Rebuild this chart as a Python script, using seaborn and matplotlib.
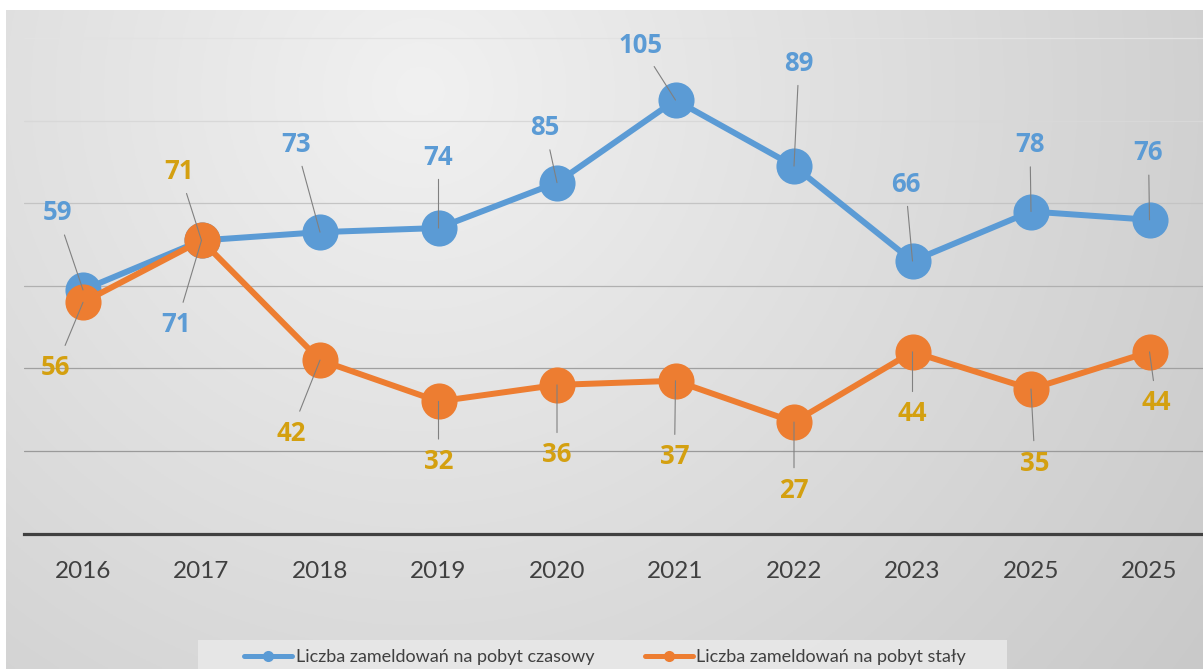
import numpy as np
import pandas as pd
import matplotlib
matplotlib.use("Agg")
import matplotlib.pyplot as plt
from matplotlib.lines import Line2D
from matplotlib.patches import Rectangle
import seaborn as sns

# ---- data ----
years = ["2016", "2017", "2018", "2019", "2020", "2021", "2022", "2023", "2025", "2025"]
temporary = [59, 71, 73, 74, 85, 105, 89, 66, 78, 76]
permanent = [56, 71, 42, 32, 36, 37, 27, 44, 35, 44]
series_names = ["Liczba zameldowań na pobyt czasowy", "Liczba zameldowań na pobyt stały"]

# label offsets (pixels, right / down) - layout only
blue_offsets = [(-26, -77), (-25, 84), (-24, -88), (0, -71), (-12, -55),
                (-35, -55), (5, -103), (-7, -77), (-1, -67), (-1, -67)]
orange_offsets = [(-27, 65), (-22, -69), (-29, 73), (0, 60), (0, 70),
                  (-1, 76), (0, 68), (0, 62), (4, 74), (7, 51)]

BLUE = "#5B9BD5"
ORANGE = "#ED7D31"
GOLD = "#D4A010"

sns.set_theme(style="white")
plt.rcParams["font.family"] = ["Lato", "DejaVu Sans"]

W, H = 1203, 669
fig = plt.figure(figsize=(W / 100, H / 100), dpi=100)
fig.patch.set_facecolor("white")

# ---- gradient background ----
bg = fig.add_axes([6 / W, 0, 1 - 6 / W, (H - 10) / H])
bg.set_axis_off()
gx, gy = np.meshgrid(np.linspace(6, W, 400), np.linspace(10, H, 250))
dist = np.sqrt((gx - 420) ** 2 + (gy - 90) ** 2)
val = 241 - dist * 0.041
val = np.clip(val, 195, 245) / 255.0
bg.imshow(np.dstack([val, val, val]), aspect="auto", extent=[0, 1, 0, 1], origin="upper")
bg.set_xlim(0, 1)
bg.set_ylim(0, 1)

# ---- main axes ----
px_per_unit = 4.128
y0_px = 533.5
ymax = 125
ax = fig.add_axes([23.75 / W, (H - y0_px) / H, 1185 / W, ymax * px_per_unit / H])
ax.patch.set_alpha(0)

xpos = np.arange(len(years))
df = pd.DataFrame({"x": np.concatenate([xpos, xpos]),
                   "value": temporary + permanent,
                   "series": [series_names[0]] * len(years) + [series_names[1]] * len(years)})

sns.lineplot(data=df[df.series == series_names[0]], x="x", y="value", color=BLUE,
             linewidth=4.3, marker="o", markersize=26, markeredgewidth=0, ax=ax,
             legend=False, zorder=2)
sns.lineplot(data=df[df.series == series_names[1]], x="x", y="value", color=ORANGE,
             linewidth=4.3, marker="o", markersize=26, markeredgewidth=0, ax=ax,
             legend=False, zorder=2.1)

ax.set_xlim(-0.5, len(years) - 0.5)
ax.set_ylim(0, ymax)
ax.set_xticks(xpos)
ax.set_xticklabels(years, fontsize=17.5, color="#404040")
ax.set_yticks([20, 40, 60, 80, 100, 120])
ax.set_yticklabels([])
ax.tick_params(axis="both", length=0)
ax.tick_params(axis="x", pad=19.5)
ax.set_xlabel("")
ax.set_ylabel("")
ax.yaxis.grid(True, linewidth=0.9)
grid_cols = ["#9a9a9a", "#a0a0a0", "#b0b0b0", "#c4c4c4", "#d8d8d8", "#e2e2e2"]
for gl, c in zip(ax.get_ygridlines(), grid_cols):
    gl.set_color(c)
ax.xaxis.grid(False)
for s in ["left", "right", "top"]:
    ax.spines[s].set_visible(False)
ax.spines["bottom"].set_color("#404040")
ax.spines["bottom"].set_linewidth(2.3)

# ---- data labels with leader lines ----
def label(vals, offs, color):
    for xi, v, (dx, dy) in zip(xpos, vals, offs):
        ax.annotate(str(v), xy=(xi, v), xytext=(dx * 0.72, -dy * 0.72),
                    textcoords="offset points", ha="center", va="center",
                    fontsize=18.5, fontweight="bold", family=["Open Sans", "DejaVu Sans"],
                    color=color, zorder=4,
                    arrowprops=dict(arrowstyle="-", color="#808080", lw=0.8,
                                    shrinkA=4, shrinkB=0))

label(temporary, blue_offsets, BLUE)
label(permanent, orange_offsets, GOLD)

# ---- legend ----
fig.patches.append(Rectangle((198 / W, 0), (1007 - 198) / W, (H - 640) / H,
                             transform=fig.transFigure, facecolor="#e8e8e8",
                             edgecolor="none", alpha=0.9, zorder=1))
handles = [Line2D([], [], color=BLUE, lw=3.6, marker="o", markersize=8, markeredgewidth=0),
           Line2D([], [], color=ORANGE, lw=3.6, marker="o", markersize=8, markeredgewidth=0)]
leg = fig.legend(handles, series_names, loc="center", ncol=2,
                 bbox_to_anchor=(605 / W, 1 - 657 / H), frameon=False,
                 fontsize=13, handlelength=2.67, handletextpad=0.2,
                 columnspacing=2.8, labelcolor="#404040")
leg.set_zorder(5)

fig.savefig("out.png", dpi=100)
